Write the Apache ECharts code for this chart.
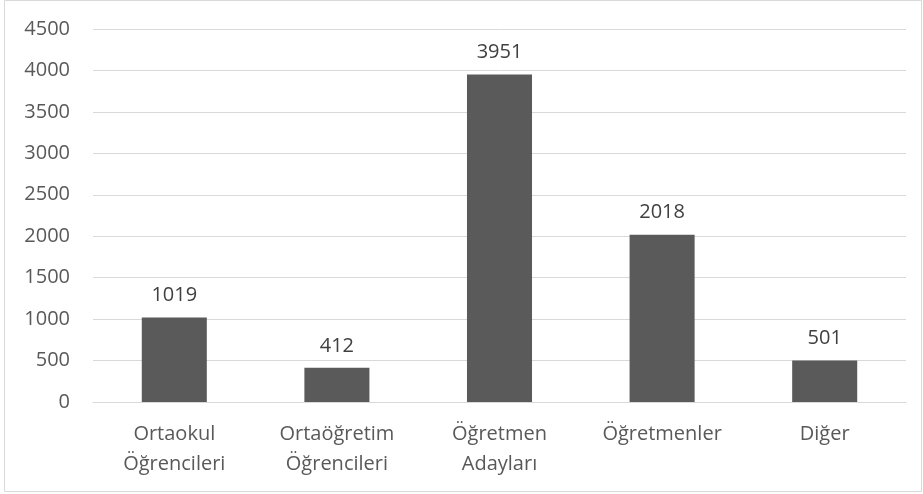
<!DOCTYPE html>
<html>
<head>
<meta charset="utf-8">
<script src="https://cdn.jsdelivr.net/npm/echarts@6/dist/echarts.min.js"></script>
<style>
    html, body { margin: 0; padding: 0; background: #fff; }
    #chart { width: 923px; height: 494px; }
</style>
</head>
<body>
<div id="chart"></div>
<script>
const categories = ['Ortaokul\nÖğrencileri', 'Ortaöğretim\nÖğrencileri', 'Öğretmen\nAdayları', 'Öğretmenler', 'Diğer']
const values = [1019, 412, 3951, 2018, 501]
const yTicks = { min: 0, max: 4500, interval: 500 }

const textColor = '#595959'
const fontFamily = '"Open Sans", sans-serif'

const chart = echarts.init(document.getElementById('chart'))
chart.setOption({
    animation: false,
    graphic: [{
        type: 'rect',
        shape: { x: 4.5, y: 0.5, width: 917, height: 491 },
        style: { fill: 'none', stroke: '#d9d9d9', lineWidth: 1 }
    }],
    grid: {
        left: 93,
        right: 17,
        top: 29,
        bottom: 92
    },
    xAxis: {
        type: 'category',
        data: categories,
        axisTick: { show: false },
        axisLine: { lineStyle: { color: '#d9d9d9', width: 1 } },
        axisLabel: {
            color: textColor,
            fontSize: 20,
            fontFamily: fontFamily,
            lineHeight: 30,
            margin: 17,
            interval: 0
        }
    },
    yAxis: {
        type: 'value',
        min: yTicks.min,
        max: yTicks.max,
        interval: yTicks.interval,
        axisLine: { show: false },
        axisTick: { show: false },
        splitLine: { lineStyle: { color: '#d9d9d9', width: 1 } },
        axisLabel: {
            color: textColor,
            fontSize: 20,
            fontFamily: fontFamily,
            margin: 23,
            formatter: v => String(v)
        }
    },
    series: [{
        type: 'bar',
        data: values,
        barWidth: '40%',
        itemStyle: { color: '#5a5a5a' },
        label: {
            show: true,
            position: 'top',
            distance: 12,
            color: '#404040',
            fontSize: 20,
            fontFamily: fontFamily
        }
    }]
})
</script>
</body>
</html>
